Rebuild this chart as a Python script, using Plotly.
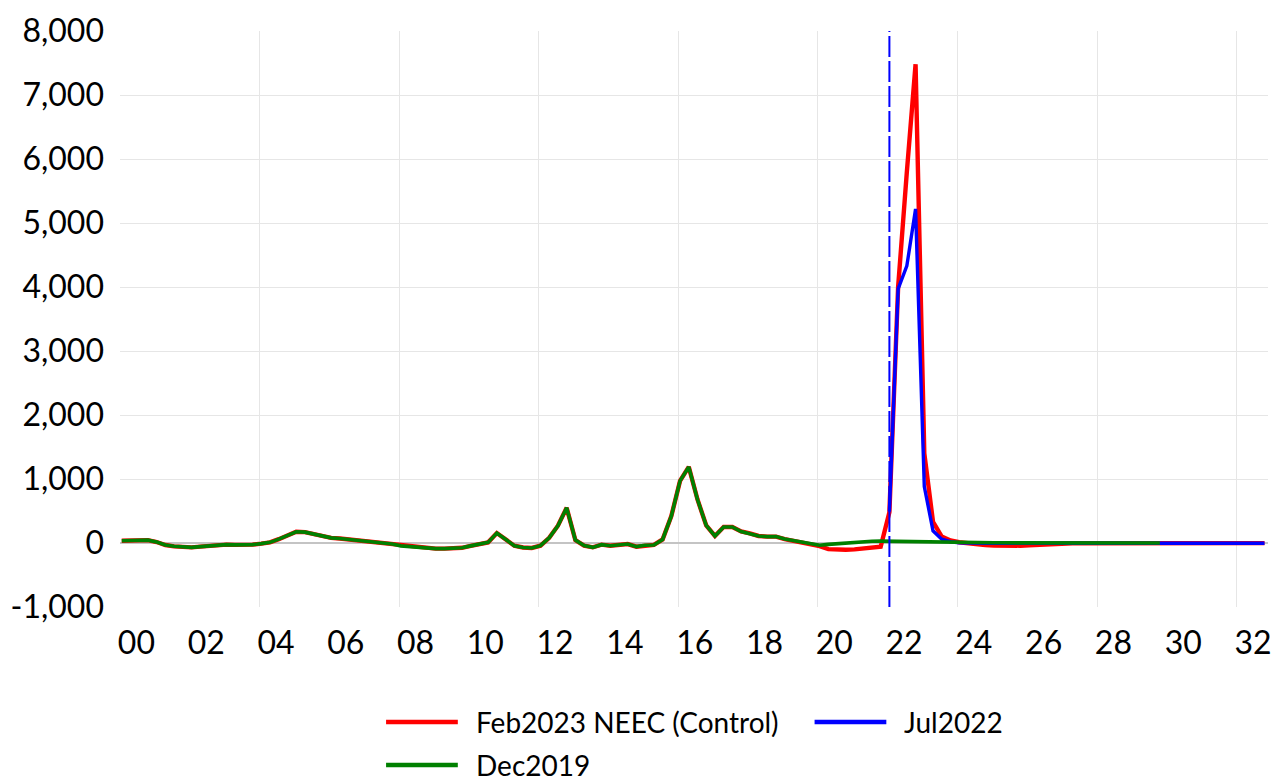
import plotly.graph_objects as go

# ---------------- data ----------------
# sample times in hours, 15-minute steps
hours = [i * 0.25 for i in range(132)]

feb2023_neec = [
    36, 36, 38, 45, 15, -31, -52, -62, -68, -57,
    -47, -30, -26, -30, -31, -26, -10, 10, 60, 120,
    175, 170, 140, 100, 80, 70, 55, 40, 26, 15,
    0, -15, -45, -57, -62, -83, -88, -88, -88, -75,
    -45, -15, 10, 155, 52, -42, -70, -78, -42, 80,
    270, 550, 47, -40, -68, -26, -42, -30, -16, -57,
    -36, -31, 55, 420, 970, 1190, 680, 275, 110, 250,
    250, 180, 150, 110, 100, 100, 62, 36, 10, -25,
    -50, -95, -105, -105, -100, -90, -78, -58, 480, 4000,
    5800, 7480, 1400, 330, 100, 40, 12, -8, -22, -33,
    -40, -44, -45, -42, -35, -26, -17, -10, -6, -4,
    -3, -3, -3, -2, -2, -2, -2, -2, -2, -2,
    -2, -2, -2, -2, -2, -2, -2, -2, -2, -2,
    -2, -2,
]

jul2022_start = 88  # Jul2022 series begins at the event time
jul2022 = [
    490, 3970, 4330, 5220, 880, 190, 60, 20, 5, -2,
    -4, -5, -5, -5, -5, -5, -4, -4, -4, -4,
    -4, -4, -4, -4, -4, -4, -4, -4, -4, -4,
    -4, -4, -4, -4, -4, -4, -4, -4, -4, -4,
    -4, -4, -4, -4,
]

dec2019 = [
    36, 36, 38, 45, 15, -31, -52, -62, -68, -57,
    -47, -30, -26, -30, -31, -26, -10, 10, 60, 120,
    175, 170, 140, 100, 80, 70, 55, 40, 26, 15,
    0, -15, -45, -57, -62, -83, -88, -88, -88, -75,
    -45, -15, 10, 155, 52, -42, -70, -78, -42, 80,
    270, 550, 47, -40, -68, -26, -42, -30, -16, -57,
    -36, -31, 55, 420, 970, 1190, 680, 275, 110, 250,
    250, 180, 150, 110, 100, 100, 62, 36, 10, -18,
    -35, -22, -10, 5, 15, 22, 28, 30, 28, 22,
    12, 8, 6, 5, 5, 5, 4, 4, 4, 3,
    3, 3, 3, 2, 2, 2, 2, 2, 1, 1,
    1, 1, 1, 0, 0, 0, 0, 0, 0, 0,
]

event_hour = 22.0

x_tick_labels = ["00", "02", "04", "06", "08", "10", "12", "14", "16",
                 "18", "20", "22", "24", "26", "28", "30", "32"]
x_grid_hours = [4, 8, 12, 16, 20, 24, 28, 32]
y_tick_values = [-1000, 0, 1000, 2000, 3000, 4000, 5000, 6000, 7000, 8000]
y_tick_labels = ["-1,000", "0", "1,000", "2,000", "3,000", "4,000",
                 "5,000", "6,000", "7,000", "8,000"]

series_names = ["Feb2023 NEEC (Control)", "Jul2022", "Dec2019"]
series_colors = ["#FF0000", "#0000FF", "#008000"]

# ---------------- layout constants ----------------
W, H = 1280, 781
ML, MR, MT, MB = 120, 8, 31, 174
PW, PH = W - ML - MR, H - MT - MB
X_OFF = 0.05      # axis offset so first sample sits just right of the left edge
LABEL_OFF = 0.42  # tick labels are shifted right of their grid position
FONT = "Lato, 'Open Sans', sans-serif"


def px_x(px):
    return (px - ML) / PW


def px_y(py):
    return (H - MB - py) / PH


fig = go.Figure()
fig.add_trace(go.Scatter(x=hours[:len(feb2023_neec)], y=feb2023_neec, mode="lines",
                         name=series_names[0],
                         line=dict(color=series_colors[0], width=4.4)))
fig.add_trace(go.Scatter(x=hours[jul2022_start:jul2022_start + len(jul2022)], y=jul2022,
                         mode="lines", name=series_names[1],
                         line=dict(color=series_colors[1], width=3.4)))
fig.add_trace(go.Scatter(x=hours[:len(dec2019)], y=dec2019, mode="lines",
                         name=series_names[2],
                         line=dict(color=series_colors[2], width=3.6)))

# event marker
fig.add_shape(type="line", xref="x", yref="paper", x0=event_hour, x1=event_hour,
              y0=0, y1=1, line=dict(color="#0000FF", width=2, dash="21px,4px"),
              layer="above")

# manual legend (two columns, wraps to a second row)
legend_items = [
    (0, 387, 722),
    (1, 817, 722),
    (2, 387, 765),
]
for idx, lx, ly in legend_items:
    fig.add_shape(type="line", xref="paper", yref="paper",
                  x0=px_x(lx), x1=px_x(lx + 72), y0=px_y(ly), y1=px_y(ly),
                  line=dict(color=series_colors[idx], width=4.5))
    fig.add_annotation(xref="paper", yref="paper", x=px_x(lx + 89), y=px_y(ly),
                       xanchor="left", yanchor="middle", showarrow=False,
                       height=30, valign="middle", borderpad=0,
                       text=series_names[idx],
                       font=dict(family=FONT, size=28, color="#000000"))

fig.update_layout(
    width=W, height=H,
    margin=dict(l=ML, r=MR, t=MT, b=MB, pad=0),
    plot_bgcolor="#FFFFFF", paper_bgcolor="#FFFFFF",
    showlegend=False,
    font=dict(family=FONT, color="#000000"),
    xaxis=dict(
        range=[-X_OFF, 32.9 - X_OFF],
        tickmode="array",
        tickvals=[2 * k + LABEL_OFF for k in range(len(x_tick_labels))],
        ticktext=x_tick_labels,
        showgrid=False, zeroline=False, showline=False, ticks="",
        ticklabelstandoff=14,
        tickfont=dict(family=FONT, size=32, color="#000000"),
        minor=dict(tickvals=[g - X_OFF for g in x_grid_hours], showgrid=True,
                   gridcolor="#E6E6E6", gridwidth=1, ticks=""),
    ),
    yaxis=dict(
        range=[-1000, 8000],
        tickmode="array",
        tickvals=y_tick_values,
        ticktext=y_tick_labels,
        showgrid=False, showline=False, ticks="",
        zeroline=True, zerolinecolor="#C4C4C4", zerolinewidth=1.5,
        ticklabelstandoff=15,
        tickfont=dict(family=FONT, size=32, color="#000000"),
        minor=dict(tickvals=[v for v in y_tick_values if v > 0], showgrid=True,
                   gridcolor="#E6E6E6", gridwidth=1, ticks=""),
    ),
)

fig.write_html(
    "out.html",
    config={"displayModeBar": False},
    post_script="document.body.style.margin='0';document.body.style.overflow='hidden';",
)
